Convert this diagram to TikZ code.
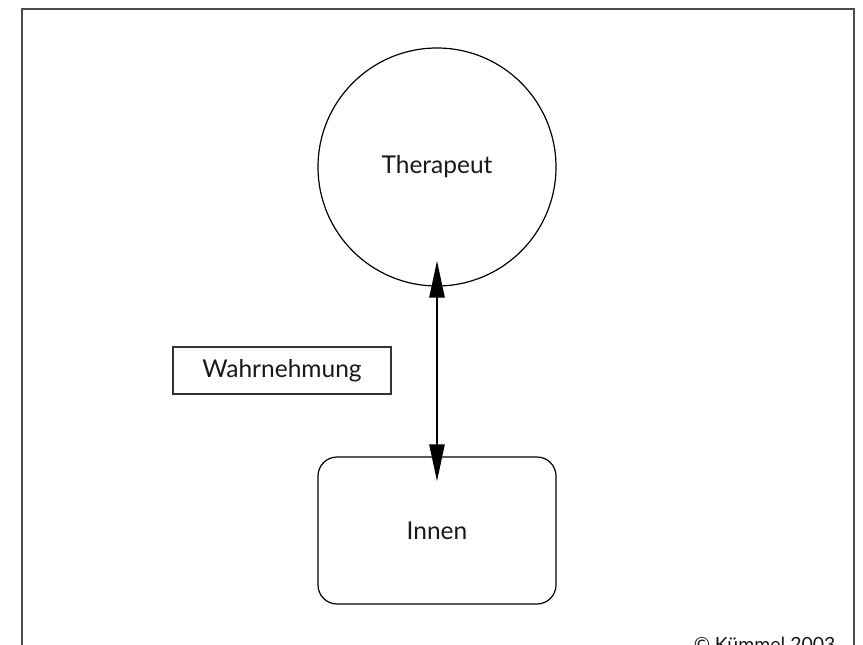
\documentclass[tikz,border=0pt]{standalone}
\usepackage{fontspec}
\setmainfont{Lato}
\usetikzlibrary{arrows.meta}
\begin{document}
\begin{tikzpicture}[x=1pt,y=-1pt,
  every node/.style={font=\fontsize{24.5}{28}\selectfont, text=black!90},
  outline/.style={draw=black, line width=1.2pt},
  label box/.style={draw=black!80, line width=1.2pt, minimum width=218pt, minimum height=47pt, inner sep=0pt},
  frameline/.style={draw=black!70, line width=2pt},
  link/.style={line width=2.6pt, {Triangle[length=37pt,width=15pt]}-{Triangle[length=37pt,width=15pt]}}
]
\useasboundingbox (0,0) rectangle (863,645);
\fill[white] (0,0) rectangle (863,645);
\begin{scope}
\clip (0,0) rectangle (863,645);
% open frame round the figure
\draw[frameline] (21.5,660) -- (21.5,8.5) -- (853.5,8.5) -- (853.5,660);
% nodes
\node[outline, circle, minimum size=238pt, inner sep=0pt] (therapeut) at (437,167) {Therapeut};
\node[outline, rounded corners=19pt, minimum width=238pt, minimum height=147pt, inner sep=0pt] (innen) at (437,530.5) {Innen};
\node[label box] (wahr) at (282,370.5) {Wahrnehmung};
% two-way link between the two
\draw[link, shorten <=-26pt, shorten >=-25pt] (therapeut) -- (innen);
% copyright line, running off the lower edge
\node[anchor=base east, font=\fontsize{19.5}{22}\selectfont] (copy) at (839,651) {© Kümmel 2003};
\end{scope}
\end{tikzpicture}
\end{document}
